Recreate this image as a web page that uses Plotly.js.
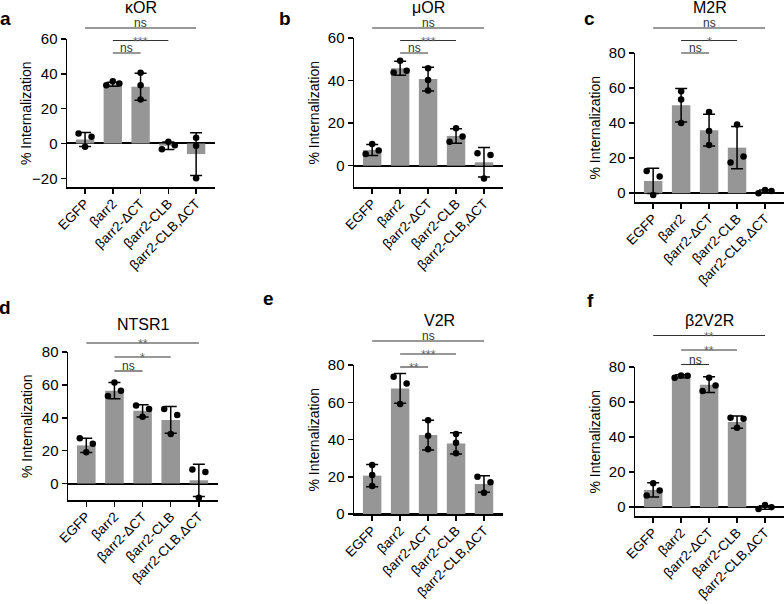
<!DOCTYPE html>
<html><head><meta charset="utf-8">
<script src="https://cdn.plot.ly/plotly-3.0.1.min.js"></script>
<style>body{margin:0;background:#fff}#chart{width:784px;height:604px}</style>
</head><body><div id="chart"></div>
<script>
// ---------- data ----------
const categories = ['EGFP', 'βarr2', 'βarr2-ΔCT', 'βarr2-CLB', 'βarr2-CLB,ΔCT'];
const panelTitles = ['κOR', 'μOR', 'M2R', 'NTSR1', 'V2R', 'β2V2R'];
const panelLetters = ['a', 'b', 'c', 'd', 'e', 'f'];
const sigPairs = [[0, 4], [1, 3], [1, 2]];

const korMean = [2.3, 34.0, 32.6, -1.3, -6.1];
const korSD   = [4.0, 1.1, 7.8, 2.2, 12.3];
const korDots = [[5.7, 3.8, -1.9], [35.8, 34.5, 33.5], [40.6, 33.5, 25.3], [1.0, -1.0, -3.3], [3.3, -1.3, -20.0]];
const korSig  = ['ns', '***', 'ns'];

const morMean = [7.4, 45.8, 40.7, 14.0, 1.6];
const morSD   = [2.6, 3.3, 5.6, 3.4, 6.9];
const morDots = [[10.2, 7.1, 5.5], [49.3, 44.6, 43.8], [45.8, 40.3, 35.3], [17.6, 13.7, 11.3], [5.8, 5.0, -6.0]];
const morSig  = ['ns', '***', 'ns'];

const m2rMean = [7.0, 50.2, 36.0, 26.0, 1.1];
const m2rSD   = [7.2, 9.5, 9.0, 12.0, 0.8];
const m2rDots = [[12.7, 9.5, -1.0], [58.2, 53.5, 40.0], [46.4, 35.5, 27.5], [39.2, 20.9, 17.6], [1.9, 1.3, 0.0]];
const m2rSig  = ['ns', '*', 'ns'];

const ntsMean = [23.2, 56.5, 44.2, 38.7, 2.0];
const ntsSD   = [4.3, 5.0, 3.7, 8.1, 9.8];
const ntsDots = [[27.6, 24.2, 19.0], [61.5, 56.5, 53.2], [47.4, 45.4, 40.7], [45.4, 41.7, 30.2], [8.5, 7.1, -8.7]];
const ntsSig  = ['**', '*', 'ns'];

const v2rMean = [20.6, 67.4, 42.4, 37.9, 16.1];
const v2rSD   = [6.0, 8.0, 8.0, 5.7, 4.4];
const v2rDots = [[26.3, 20.9, 15.0], [73.7, 70.1, 59.0], [50.4, 42.0, 34.7], [42.9, 38.3, 32.6], [20.0, 17.0, 11.4]];
const v2rSig  = ['ns', '***', '**'];

const b2vMean = [9.9, 74.7, 69.9, 48.6, -0.2];
const b2vSD   = [4.1, 0.9, 4.5, 3.5, 1.0];
const b2vDots = [[13.7, 9.5, 6.7], [75.2, 75.0, 73.9], [73.9, 69.5, 66.3], [51.0, 50.5, 45.3], [1.3, 0.0, -1.0]];
const b2vSig  = ['**', '**', 'ns'];

const panelMeans = [korMean, morMean, m2rMean, ntsMean, v2rMean, b2vMean];
const panelSDs   = [korSD, morSD, m2rSD, ntsSD, v2rSD, b2vSD];
const panelDots  = [korDots, morDots, m2rDots, ntsDots, v2rDots, b2vDots];
const panelSigs  = [korSig, morSig, m2rSig, ntsSig, v2rSig, b2vSig];

// ---------- layout geometry (pixels) ----------
const W = 784, H = 604;
const boxes = [ // [x0, x1, y0(top), y1(bottom)]
  [67, 215, 39, 187], [354, 503, 38, 187], [635, 784, 53, 202],
  [68, 218, 352, 500], [354, 503, 365, 514], [635, 784, 367, 516]
];
const yRanges = [[-25, 60], [-10, 60], [-5, 80], [-10, 80], [0, 80], [-5, 80]];
const xRange = [-0.65, 4.68];
const sigBoxes = [[15.5, 65.5], [15.5, 65.5], [15.5, 65.5], [329, 385], [328, 380], [321, 379]];
const titleY = [7, 7, 7, 324, 320, 320];
const titleX = [0.5, 0.5, 0.5, 0.5, 0.577, 0.5];
const letterPos = [[5, 18], [285, 18], [589, 19], [5, 307], [268, 299], [590, 300]];
const FONT = 'Arial, "Liberation Sans", Helvetica, sans-serif';

function jitter(vals, ppu, s) {
  const D = 7;
  const idx = vals.map((v, i) => i).sort((a, b) => vals[b] - vals[a]);
  const offs = new Array(vals.length).fill(0);
  const clusters = [[idx[0]]];
  for (let k = 1; k < idx.length; k++) {
    const gap = (vals[idx[k - 1]] - vals[idx[k]]) * ppu;
    if (gap < D) clusters[clusters.length - 1].push(idx[k]); else clusters.push([idx[k]]);
  }
  clusters.forEach((c, ci) => {
    let pat;
    if (c.length === 1) pat = [0];
    else if (c.length === 2) pat = (ci > 0) ? [1, -1] : [-1, 1];
    else pat = [0, 1, -1];
    c.forEach((j, m) => offs[j] = pat[m] * s);
  });
  return offs;
}

const traces = [];
const layout = {
  width: W, height: H, margin: {l: 0, r: 0, t: 0, b: 0},
  paper_bgcolor: '#fff', plot_bgcolor: 'rgba(0,0,0,0)', showlegend: false,
  font: {family: FONT, color: '#000'},
  annotations: []
};
const xs = categories.map((c, i) => i);

for (let p = 0; p < 6; p++) {
  const n = p + 1;
  const xa = n === 1 ? 'x' : 'x' + n;
  const ya = n === 1 ? 'y' : 'y' + n;
  const ys = 'y' + (n + 6);
  const [x0, x1, y0, y1] = boxes[p];
  const yr = yRanges[p];
  const ppu = (y1 - y0) / (yr[1] - yr[0]);
  const ppc = (x1 - x0) / (xRange[1] - xRange[0]);

  layout[n === 1 ? 'xaxis' : 'xaxis' + n] = {
    domain: [x0 / W, x1 / W], range: xRange, anchor: ya,
    tickmode: 'array', tickvals: xs, ticktext: categories, tickangle: -45,
    ticks: 'outside', ticklen: 5, tickwidth: 1.5, tickcolor: '#000',
    showline: true, linewidth: 1.5, linecolor: '#000', showgrid: false, zeroline: false,
    ticklabelstandoff: -3,
    tickfont: {size: 13.5, family: FONT, color: '#000'}, fixedrange: true
  };
  layout[n === 1 ? 'yaxis' : 'yaxis' + n] = {
    domain: [1 - y1 / H, 1 - y0 / H], range: yr, anchor: xa, dtick: 20, tick0: 0,
    ticks: 'outside', ticklen: 5, tickwidth: 1.5, tickcolor: '#000',
    showline: true, linewidth: 1.5, linecolor: '#000', showgrid: false,
    zeroline: true, zerolinecolor: '#000', zerolinewidth: 2,
    tickfont: {size: 15, family: FONT, color: '#000'}, fixedrange: true
  };
  const [s0, s1] = sigBoxes[p];
  layout['yaxis' + (n + 6)] = {
    domain: [1 - s1 / H, 1 - s0 / H], range: [0, 4], anchor: xa, visible: false, fixedrange: true
  };

  // bars with error bars
  traces.push({
    type: 'bar', x: xs, y: panelMeans[p], xaxis: xa, yaxis: ya, width: 0.66,
    marker: {color: '#969696', line: {width: 0}},
    error_y: {type: 'data', array: panelSDs[p], visible: true, color: '#000', thickness: 1.5, width: 6},
    hoverinfo: 'none'
  });
  // dots
  const dx = [], dy = [];
  panelDots[p].forEach((vals, ci) => {
    const offs = jitter(vals, ppu, 6.5 / ppc);
    vals.forEach((v, k) => { dx.push(ci + offs[k]); dy.push(v); });
  });
  traces.push({
    type: 'scatter', mode: 'markers', x: dx, y: dy, xaxis: xa, yaxis: ya,
    marker: {color: '#000', size: 6.5}, cliponaxis: false, hoverinfo: 'none'
  });
  // significance lines
  const levels = [3, 2, 1];
  sigPairs.forEach((pr, k) => {
    traces.push({
      type: 'scatter', mode: 'lines', x: [pr[0], pr[1]], y: [levels[k], levels[k]],
      xaxis: xa, yaxis: ys, line: {color: '#333', width: 1.1}, hoverinfo: 'none'
    });
    const lab = panelSigs[p][k];
    const star = lab.indexOf('*') >= 0;
    layout.annotations.push({
      xref: xa, yref: ys, x: (pr[0] + pr[1]) / 2, y: levels[k], text: lab,
      showarrow: false, yanchor: 'bottom', yshift: star ? -9 : -3, borderpad: 0,
      font: {size: star ? 12.5 : 12, family: FONT, color: star ? '#666' : '#333'}
    });
  });
  // title
  layout.annotations.push({
    xref: xa + ' domain', yref: 'paper', x: titleX[p], y: 1 - titleY[p] / H,
    text: panelTitles[p], showarrow: false, xanchor: 'center', yanchor: 'middle',
    font: {size: 16, family: FONT, color: '#000'}
  });
  // y axis title
  layout.annotations.push({
    xref: xa + ' domain', yref: ya + ' domain', x: 0, y: 0.5, xshift: -41,
    text: '% Internalization', textangle: -90, showarrow: false,
    xanchor: 'center', yanchor: 'middle', font: {size: 14, family: FONT, color: '#000'}
  });
  // panel letter
  layout.annotations.push({
    xref: 'paper', yref: 'paper', x: letterPos[p][0] / W, y: 1 - letterPos[p][1] / H,
    text: '<b>' + panelLetters[p] + '</b>', showarrow: false, xanchor: 'center', yanchor: 'middle',
    font: {size: 19, family: FONT, color: '#000'}
  });
}

Plotly.newPlot('chart', traces, layout, {staticPlot: true, displayModeBar: false});
</script>
</body></html>
